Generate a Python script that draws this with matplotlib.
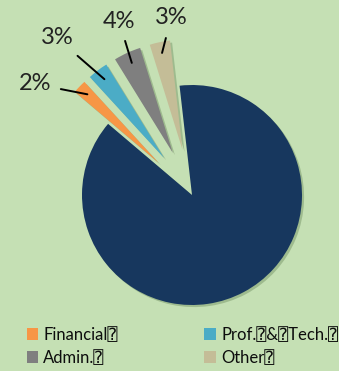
import matplotlib
matplotlib.use("Agg")
import matplotlib.pyplot as plt
import matplotlib.patheffects as pe
from matplotlib.patches import Patch
import numpy as np

# sector shares (%), clockwise from the top
sectors = ["Rest", "Financial", "Prof. & Tech.", "Admin.", "Other"]
shares = [88, 2, 3, 4, 3]
colors = ["#17375E", "#F79646", "#4BACC6", "#7F7F7F", "#C4BD97"]
legend_labels = ["Financial\u2370", "Prof.\u2370&\u2370Tech.\u2370", "Admin.\u2370", "Other\u2370"]

bg = "#C5E0B4"
W, H = 339, 371
fig = plt.figure(figsize=(W / 100, H / 100), dpi=100, facecolor=bg)
ax = fig.add_axes([0, 0, 1, 1])
ax.set_facecolor(bg)

# pie centre (px) and radius (px)
cx, cy, R = 192, 195, 110

explode = [0] + [0.42] * 4
wedges, _ = ax.pie(shares, colors=colors, explode=explode, startangle=96.5,
                   counterclock=False, radius=1.0, center=(0, 0))
for w in wedges:
    w.set_path_effects([pe.SimplePatchShadow(offset=(1.5, -1.5), shadow_rgbFace="#6f8f60", alpha=0.45),
                        pe.Normal()])

ax.set_xlim(-cx / R, (W - cx) / R)
ax.set_ylim(-(H - cy) / R, cy / R)
ax.set_aspect("auto")
ax.axis("off")

# label positions in pixels (text centres)
label_px = [(35, 84), (57, 38), (119, 21), (171, 18)]
for w, val, (px, py) in zip(wedges[1:], shares[1:], label_px):
    mid = np.deg2rad((w.theta1 + w.theta2) / 2)
    x0, y0 = w.center
    anchor = (x0 + 0.9 * np.cos(mid), y0 + 0.9 * np.sin(mid))
    ax.annotate(f"{val}%", xy=anchor, xytext=(px / W, 1 - py / H),
                textcoords="axes fraction", ha="center", va="center",
                fontsize=17, family=["Lato", "DejaVu Sans"], color="#222222",
                arrowprops=dict(arrowstyle="-", color="black", lw=1.4, shrinkA=5, shrinkB=0))

# two columns, filled row by row
handles = [Patch(facecolor=c) for c in colors[1:]]
order = [0, 2, 1, 3]
leg = ax.legend([handles[i] for i in order], [legend_labels[i] for i in order],
                ncol=2, frameon=False,
                loc="upper left", bbox_to_anchor=(20 / W, 1 - 320 / H),
                handlelength=0.7, handleheight=0.7, handletextpad=0.3,
                columnspacing=5.2, labelspacing=0.42, borderaxespad=0,
                prop=dict(family=["Lato", "DejaVu Sans", "DejaVu Sans Mono"], size=12))
for t in leg.get_texts():
    t.set_color("#0D0D0D")

fig.savefig("out.png", dpi=100, facecolor=bg)
